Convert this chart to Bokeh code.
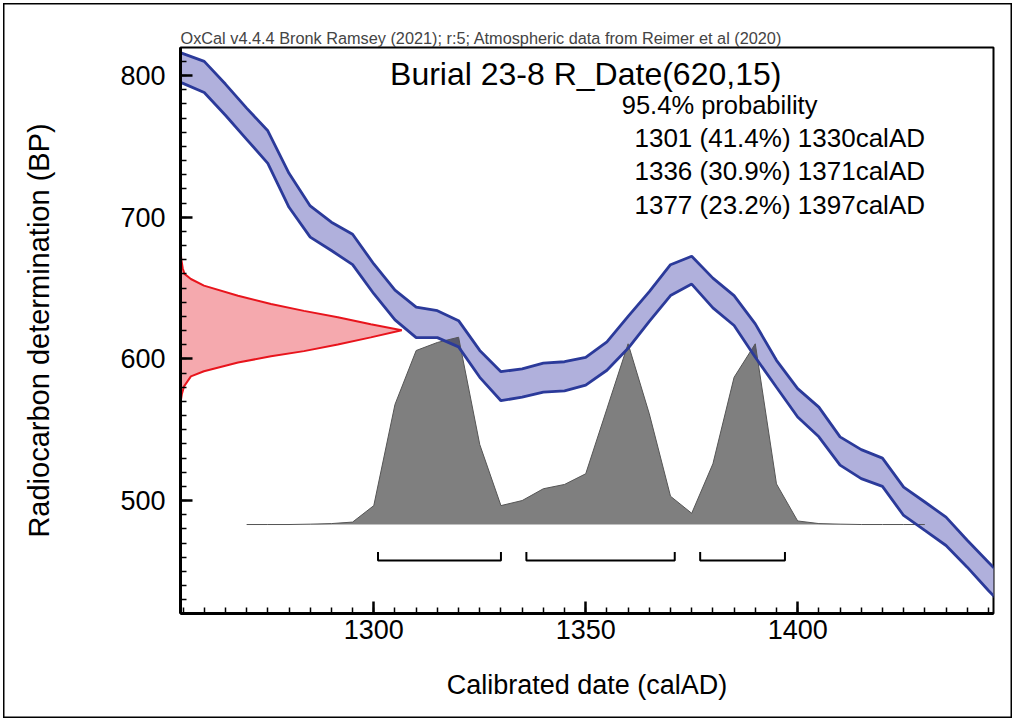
import numpy as np
from bokeh.plotting import figure
from bokeh.models import Range1d, SingleIntervalTicker, Label, InlineStyleSheet
from bokeh.embed import file_html
from bokeh.resources import INLINE

# ---------------- data ----------------
# IntCal20 calibration curve, 1-sigma envelope (BP) every 5 years
curve_year = list(range(1250, 1451, 5))
curve_upper = [821, 815.5, 810, 794, 777, 761, 731, 708, 696.5, 688, 667, 648.5, 636.5, 634, 627,
               606, 591, 593, 597, 598, 601, 612, 630, 647.5, 666.5, 672.5, 657, 644.7, 624.7, 599,
               579, 566, 545, 536, 530, 509.5, 499, 488.3, 472, 456.5, 441]
curve_lower = [800, 794.5, 788, 772, 755, 738, 707, 686, 676.5, 666.5, 646, 627.5, 615, 615, 608.5,
               587, 570.5, 573, 576.5, 577.5, 581.5, 592, 607.5, 626.5, 644.7, 652.8, 636, 623.6, 601.2, 580,
               559, 545, 525, 515.5, 510, 489.5, 479, 468.3, 453, 436.5, 421]

# R_Date(620,15) likelihood (relative density)
rdate_bp = [676, 670, 664, 660, 656.4, 651.7, 644.6, 638.7, 633.9, 629.4, 624.4, 620.2,
            615.2, 610.2, 605.5, 601.9, 597.4, 591.3, 587.7, 580.6, 575, 569]
rdate_density = [0.0, 0.004, 0.010, 0.018, 0.047, 0.106, 0.26, 0.409, 0.558, 0.711, 0.86, 1.0,
                 0.86, 0.711, 0.558, 0.409, 0.26, 0.106, 0.047, 0.016, 0.006, 0.0]

# calibrated date probability (relative)
cal_year = list(range(1270, 1431, 5))
cal_prob = [0, 0, 0, 0.002, 0.005, 0.013, 0.101, 0.641, 0.929, 0.972, 1.0, 0.427, 0.101,
            0.128, 0.191, 0.214, 0.271, 0.618, 0.965, 0.591, 0.151, 0.060, 0.324, 0.786,
            0.965, 0.217, 0.019, 0.005, 0.002, 0, 0, 0, 0]

# 95.4% ranges
range_start = [1301, 1336, 1377]
range_end = [1330, 1371, 1397]
range_pct = [41.4, 30.9, 23.2]

header = "OxCal v4.4.4 Bronk Ramsey (2021); r:5; Atmospheric data from Reimer et al (2020)"
title = "Burial 23-8 R_Date(620,15)"
x_title = "Calibrated date (calAD)"
y_title = "Radiocarbon determination (BP)"

# ---------------- layout constants ----------------
X0, X1 = 1254.4, 1446.2
Y0, Y1 = 420.3, 819.8
FONT = "Liberation Sans"
RED_W = 52.2          # width (years) of peak of R_Date curve
CAL_BASE = 483.1      # baseline of calibrated distribution (BP axis)
CAL_H = 132.2         # height of calibrated distribution peak (BP units)
BR_Y = 457.7
BR_DY = 6.0

p = figure(width=1015, height=721, x_range=Range1d(X0, X1), y_range=Range1d(Y0, Y1),
           output_backend="svg", toolbar_location=None,
           min_border_left=180, min_border_right=22, min_border_top=47, min_border_bottom=108)
ring = "inset 0 0 0 3px #fff, inset 0 0 0 4.5px #000"
p.styles = {"background-color": "white", "box-shadow": ring}
p.stylesheets = [InlineStyleSheet(css=":host { background-color: white; box-shadow: %s; }" % ring)]
p.grid.visible = False
p.background_fill_color = "white"
p.border_fill_color = None
p.outline_line_color = "black"
p.outline_line_width = 2

p.title.text = header
p.title.text_font = FONT
p.title.text_font_size = "16.3px"
p.title.text_font_style = "normal"
p.title.align = "left"
p.title.standoff = 2

for ax in (p.xaxis[0], p.yaxis[0]):
    ax.axis_line_width = 3
    ax.axis_line_color = "black"
    ax.major_tick_in = 12
    ax.major_tick_out = 0
    ax.minor_tick_in = 6
    ax.minor_tick_out = 0
    ax.major_tick_line_width = 2.5
    ax.minor_tick_line_width = 1.5
    ax.major_tick_line_color = "black"
    ax.minor_tick_line_color = "black"
    ax.major_label_text_font = FONT
    ax.major_label_text_color = "black"
    ax.major_label_text_font_size = "27px"
    ax.axis_label_text_font = FONT
    ax.axis_label_text_font_style = "normal"
    ax.axis_label_text_color = "black"

p.xaxis.axis_label_text_font_size = "27px"
p.yaxis.axis_label_text_font_size = "29px"
p.xaxis.ticker = SingleIntervalTicker(interval=50, num_minor_ticks=10)
p.yaxis.ticker = SingleIntervalTicker(interval=100, num_minor_ticks=10)
p.xaxis.major_label_standoff = 6
p.yaxis.major_label_standoff = 15
p.xaxis.axis_label = x_title
p.yaxis.axis_label = y_title
p.xaxis.axis_label_standoff = 28
p.yaxis.axis_label_standoff = 62

# R_Date likelihood (red) along the y axis
red_x = [X0 + d * RED_W for d in rdate_density]
p.harea(y=rdate_bp, x1=[X0] * len(rdate_bp), x2=red_x, fill_color="#F5A9AE")
p.line(red_x, rdate_bp, line_color="#E8141C", line_width=2)

# calibration curve band
p.varea(x=curve_year, y1=curve_lower, y2=curve_upper, fill_color="#B0B0DC")

# calibrated distribution (grey, multiply-like overlay)
cal_top = [CAL_BASE + v * CAL_H for v in cal_prob]
p.varea(x=cal_year, y1=[CAL_BASE] * len(cal_year), y2=cal_top, fill_color="black", fill_alpha=0.5)
p.line(cal_year, cal_top, line_color="#555555", line_width=1)

# curve outlines
p.line(curve_year, curve_upper, line_color="#2B3A9A", line_width=2.8)
p.line(curve_year, curve_lower, line_color="#2B3A9A", line_width=2.8)

# range brackets
for s, e in zip(range_start, range_end):
    p.line([s, s, e, e], [BR_Y + BR_DY, BR_Y, BR_Y, BR_Y + BR_DY], line_color="black", line_width=2)

# texts inside the frame
def lab(x, y, t, size, align="left"):
    p.add_layout(Label(x=x, y=y, text=t, text_font=FONT, text_font_size=size,
                       text_align=align, text_baseline="middle", text_color="black"))

lab(1350, 801.4, title, "32px", align="center")
lab(1358.5, 779.5, "95.4% probability", "25.5px")
ys = [756.2, 732.5, 708.8]
for s, e, pc, yy in zip(range_start, range_end, range_pct, ys):
    lab(1361.5, yy, f"{s} ({pc}%) {e}calAD", "26px")

open("out.html", "w").write(file_html(p, INLINE))
